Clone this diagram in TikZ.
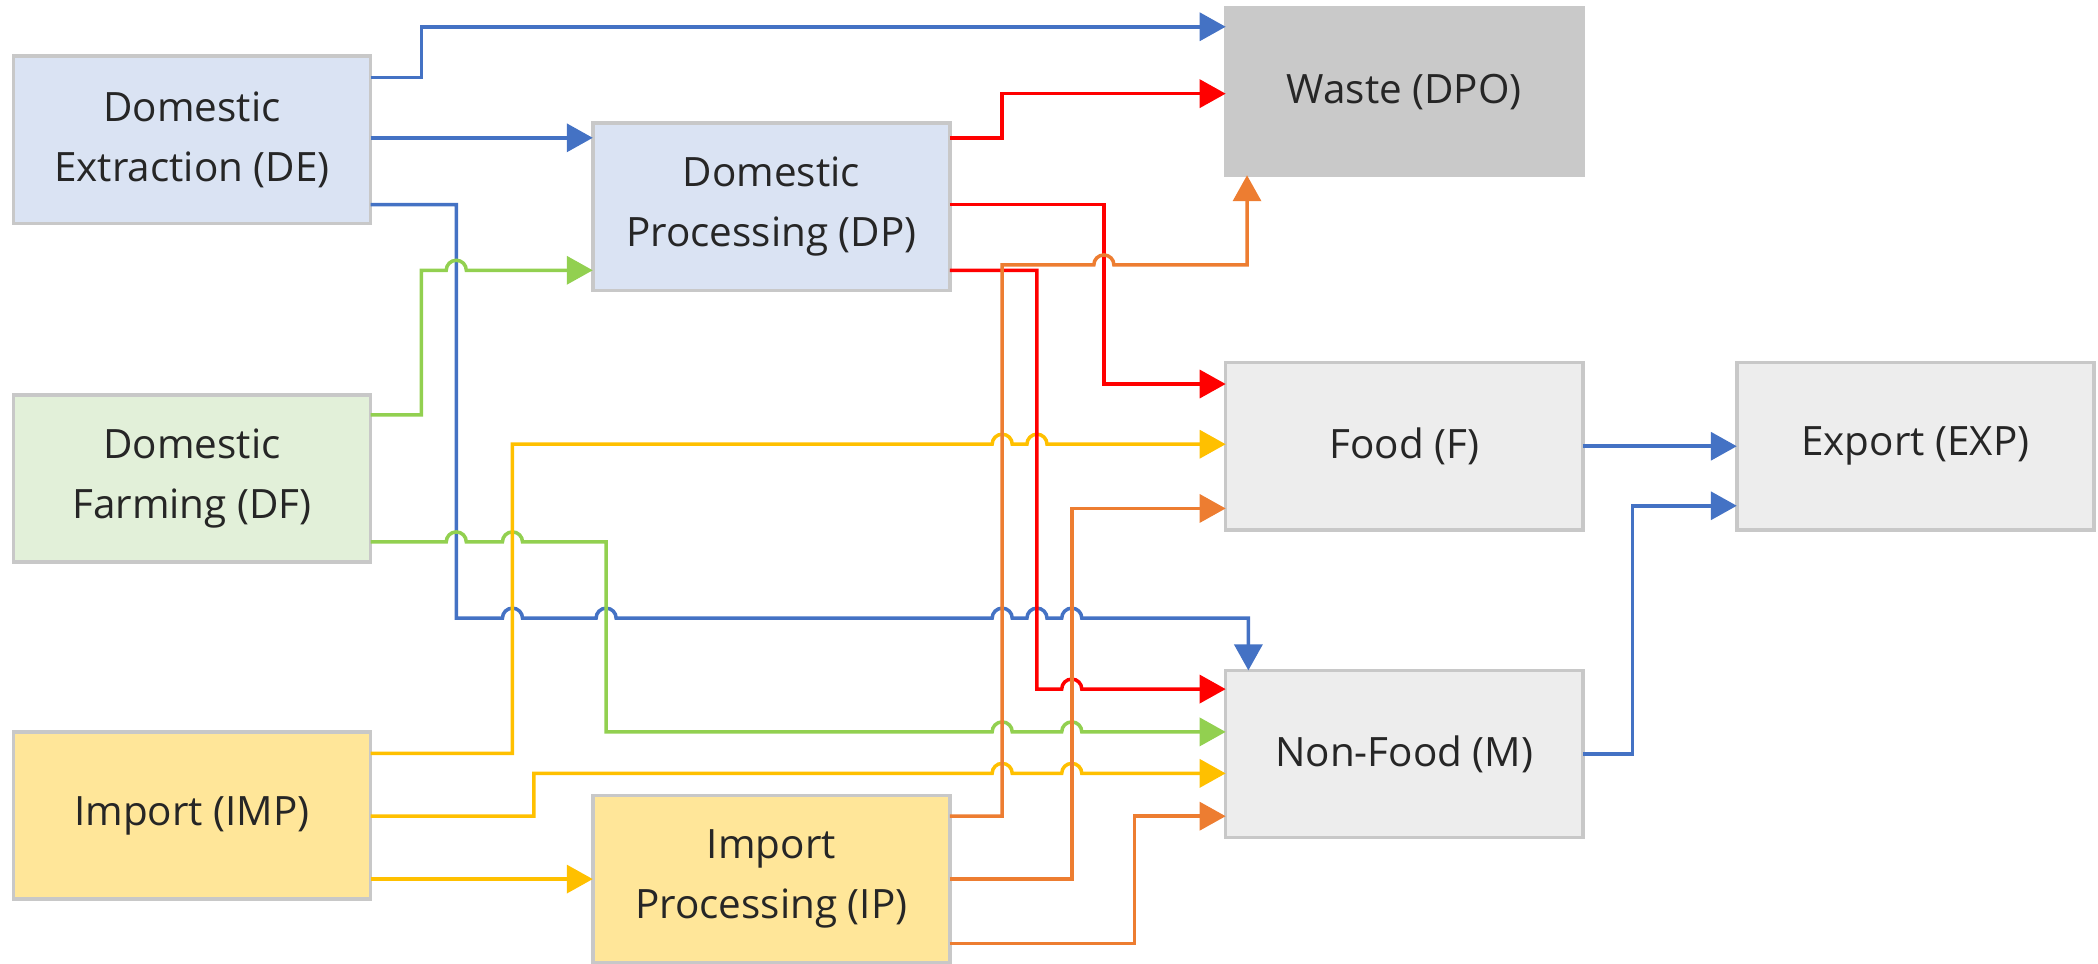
\documentclass[tikz,border=0pt]{standalone}
\usepackage{fontspec}
\setmainfont{Open Sans}
\usetikzlibrary{arrows.meta}
\definecolor{cblue}{HTML}{4472C4}
\definecolor{cred}{HTML}{FF0000}
\definecolor{cgreen}{HTML}{92D050}
\definecolor{cyellow}{HTML}{FFC000}
\definecolor{corange}{HTML}{ED7D31}
\definecolor{fblue}{HTML}{DAE3F3}
\definecolor{fgreen}{HTML}{E2F0D9}
\definecolor{fyellow}{HTML}{FFE699}
\definecolor{fgray}{HTML}{EDEDED}
\definecolor{fdark}{HTML}{C9C9C9}
\definecolor{bord}{HTML}{C8C8C8}
\newcommand\hp[2]{-- ({#1-7.5},#2) arc[start angle=180,end angle=0,x radius=0.1004cm,y radius=0.1cm]}
\begin{document}
\begin{tikzpicture}[x=0.01338cm,y=-0.01338cm,
  box/.style={draw=bord,line width=1pt,minimum width=3.572cm,minimum height=1.672cm,
    inner sep=0pt,outer sep=0pt,align=center,text=black!85,
    font=\fontsize{11.5}{17}\selectfont},
  flow/.style={line width=1pt,-{Triangle[length=0.26cm,width=0.28cm]}},
  bl/.style={flow,draw=cblue},
  rd/.style={flow,draw=cred},
  gr/.style={flow,draw=cgreen},
  yl/.style={flow,draw=cyellow},
  orr/.style={flow,draw=corange}]
\useasboundingbox (0,0) rectangle (1568,720);
% nodes
\node[box,fill=fblue] (DE) at (143.5,104.5) {Domestic\\Extraction (DE)};
\node[box,fill=fgreen] (DF) at (143.5,357.5) {Domestic\\Farming (DF)};
\node[box,fill=fyellow] (IMP) at (143.5,609.5) {Import (IMP)};
\node[box,fill=fblue] (DP) at (576.5,154.5) {Domestic\\Processing (DP)};
\node[box,fill=fyellow] (IP) at (576.5,657) {Import\\Processing (IP)};
\node[box,fill=fdark,draw=fdark] (W) at (1049.5,68.5) {Waste (DPO)};
\node[box,fill=fgray] (F) at (1049.5,333.5) {Food (F)};
\node[box,fill=fgray] (M) at (1049.5,563.5) {Non-Food (M)};
\node[box,fill=fgray] (X) at (1431.5,333.5) {Export (EXP)};
% connectors
\draw[bl] (DE.east |- 0,58) -- (315,58) -- (315,20) -- (W.west |- 0,20);
\draw[bl] (DE.east |- 0,103) -- (DP.west |- 0,103);
\draw[bl] (DE.east |- 0,153) -- (341,153) -- (341,462) \hp{383}{462} \hp{453}{462} \hp{749}{462} \hp{775}{462} \hp{801}{462} -- (933,462) -- (M.north -| 933,0);
\draw[gr] (DF.east |- 0,310) -- (315,310) -- (315,202) \hp{341}{202} -- (DP.west |- 0,202);
\draw[gr] (DF.east |- 0,405) \hp{341}{405} \hp{383}{405} -- (453,405) -- (453,547) \hp{749}{547} \hp{801}{547} -- (M.west |- 0,547);
\draw[yl] (IMP.east |- 0,563) -- (383,563) -- (383,332) \hp{749}{332} \hp{775}{332} -- (F.west |- 0,332);
\draw[yl] (IMP.east |- 0,610) -- (399,610) -- (399,578) \hp{749}{578} \hp{801}{578} -- (M.west |- 0,578);
\draw[yl] (IMP.east |- 0,657) -- (IP.west |- 0,657);
\draw[rd] (DP.east |- 0,103) -- (749,103) -- (749,70) -- (W.west |- 0,70);
\draw[rd] (DP.east |- 0,153) -- (825,153) -- (825,287) -- (F.west |- 0,287);
\draw[rd] (DP.east |- 0,202) -- (775,202) -- (775,515) \hp{801}{515} -- (M.west |- 0,515);
\draw[orr] (IP.east |- 0,610) -- (749,610) -- (749,198) \hp{825}{198} -- (932,198) -- (W.south -| 932,0);
\draw[orr] (IP.east |- 0,657) -- (801,657) -- (801,380) -- (F.west |- 0,380);
\draw[orr] (IP.east |- 0,705) -- (848,705) -- (848,610) -- (M.west |- 0,610);
\draw[bl] (F.east) -- (X.west);
\draw[bl] (M.east) -- (1220,563.5) -- (1220,378) -- (X.west |- 0,378);
\end{tikzpicture}
\end{document}
